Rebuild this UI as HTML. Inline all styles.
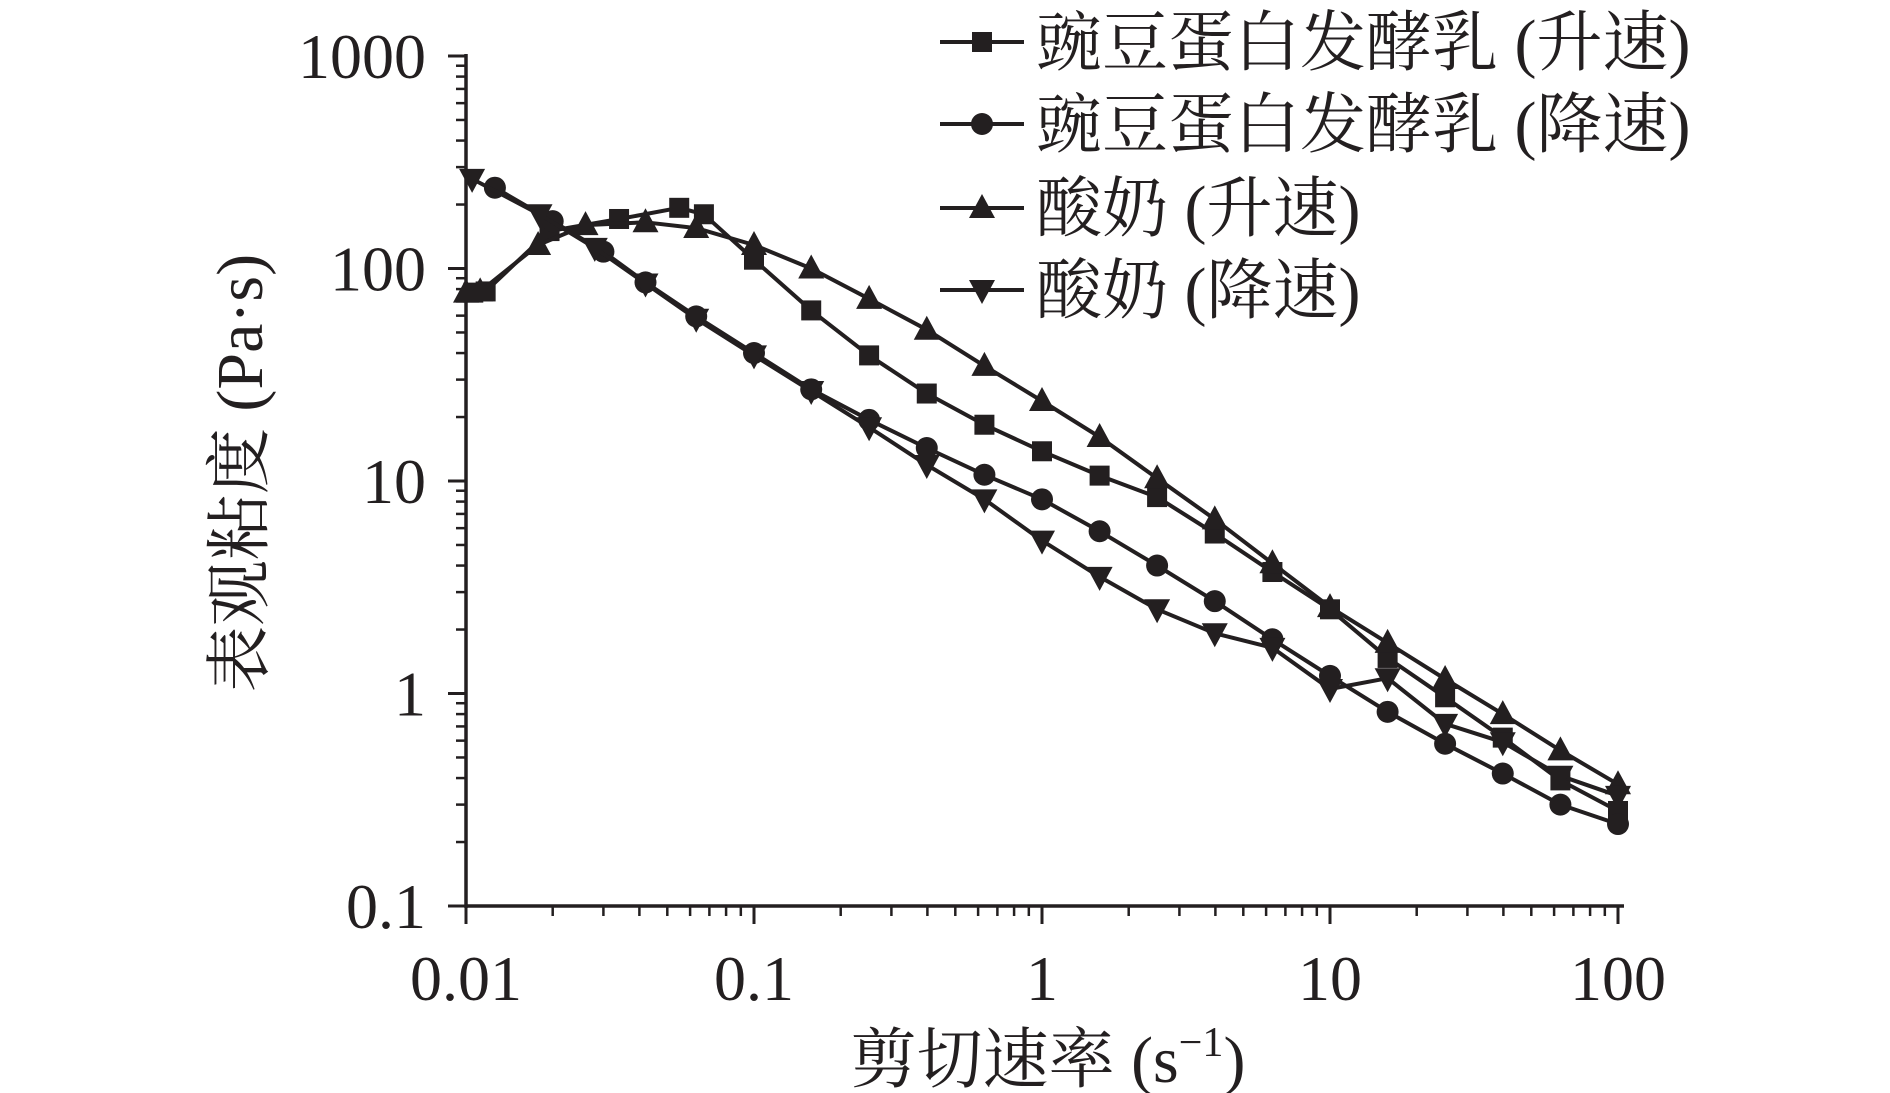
<!DOCTYPE html>
<html><head><meta charset="utf-8"><style>
html,body{margin:0;padding:0;background:#fff;}
svg{display:block;}
text{font-family:"Liberation Serif","Noto Serif CJK SC",serif;fill:#231f20;}
</style></head><body>
<svg id="chart" width="1890" height="1093" viewBox="0 0 1890 1093" xmlns="http://www.w3.org/2000/svg">
<g id="axes"></g>
<g id="series"></g>
<g id="legend"></g>
<text x="1048" y="1082" font-size="66" text-anchor="middle">剪切速率 (s<tspan font-size="42" dy="-26">−1</tspan><tspan dy="26">)</tspan></text>
<text transform="translate(262,473) rotate(-90)" font-size="66" text-anchor="middle">表观粘度 (Pa·s)</text>
</svg>
<script>
const xTicks = [0.01, 0.1, 1, 10, 100];
const xTickLabels = ["0.01", "0.1", "1", "10", "100"];
const yTicks = [0.1, 1, 10, 100, 1000];
const yTickLabels = ["0.1", "1", "10", "100", "1000"];
const seriesNames = ["豌豆蛋白发酵乳 (升速)", "豌豆蛋白发酵乳 (降速)", "酸奶 (升速)", "酸奶 (降速)"];
const seriesMarkers = ["square", "circle", "up", "down"];
const peaUpX = [0.0106,0.0117,0.0195,0.034,0.055,0.067,0.1,0.158,0.251,0.398,0.631,1,1.585,2.51,3.98,6.31,10,15.85,25.1,39.8,63.1,100];
const peaUpY = [77,78,150,171,193,180,110,63.5,39,25.8,18.4,13.8,10.6,8.4,5.66,3.73,2.49,1.47,0.96,0.62,0.39,0.28];
const peaDownX = [0.0126,0.02,0.03,0.042,0.063,0.1,0.158,0.251,0.398,0.631,1,1.585,2.51,3.98,6.31,10,15.85,25.1,39.8,63.1,100];
const peaDownY = [240,167,120,86,59.5,40,27,19.4,14.3,10.7,8.2,5.8,4.0,2.72,1.8,1.21,0.82,0.58,0.42,0.30,0.243];
const yogUpX = [0.01,0.0112,0.0178,0.026,0.042,0.063,0.1,0.158,0.251,0.398,0.631,1,1.585,2.51,3.98,6.31,10,15.85,25.1,39.8,63.1,100];
const yogUpY = [77,78,129,160,165,155,129,100,72,51.5,34.8,23.8,16.1,10.3,6.6,4.1,2.55,1.73,1.17,0.80,0.54,0.374];
const yogDownX = [0.0105,0.018,0.028,0.042,0.063,0.1,0.158,0.251,0.398,0.631,1,1.585,2.51,3.98,6.31,10,15.85,25.1,39.8,63.1,100];
const yogDownY = [264,180,125,85,58,39,26.5,17.9,11.9,8.2,5.24,3.54,2.49,1.92,1.64,1.05,1.18,0.72,0.59,0.41,0.33];

const NS = "http://www.w3.org/2000/svg";
const X0 = 466, X1 = 1618, Y0 = 906, Y1 = 56;
function xs(v){ return X0 + (Math.log10(v) + 2) / 4 * (X1 - X0); }
function ys(v){ return Y0 - (Math.log10(v) + 1) / 4 * (Y0 - Y1); }
function mk(tag, attrs, parent){ const e = document.createElementNS(NS, tag); for (const k in attrs) e.setAttribute(k, attrs[k]); parent.appendChild(e); return e; }
const C = "#231f20";
const axes = document.getElementById("axes");
let el = mk("line", {x1: X0, y1: Y0, x2: X1 + 6, y2: Y0, stroke: C, "stroke-width": 3.5}, axes);


el = mk("line", {x1: X0, y1: Y0 + 2, x2: X0, y2: Y1 - 2, stroke: C, "stroke-width": 3.5}, axes);


for (let d = 0; d < 4; d++) {
  for (let m = 2; m <= 9; m++) {
    const xv = xTicks[d] * m, yv = yTicks[d] * m;
    el = mk("line", {x1: xs(xv), y1: Y0, x2: xs(xv), y2: Y0 + 10, stroke: C, "stroke-width": 2.5}, axes);
    
    
    el = mk("line", {x1: X0, y1: ys(yv), x2: X0 - 10, y2: ys(yv), stroke: C, "stroke-width": 2.5}, axes);
    
    
  }
}
xTicks.forEach((v, i) => {
  el = mk("line", {x1: xs(v), y1: Y0, x2: xs(v), y2: Y0 + 18, stroke: C, "stroke-width": 3}, axes);
  
  
  const t = mk("text", {x: xs(v), y: 1000, "font-size": 64, "text-anchor": "middle"}, axes);
  t.textContent = xTickLabels[i];
  
  
});
yTicks.forEach((v, i) => {
  el = mk("line", {x1: X0, y1: ys(v), x2: X0 - 18, y2: ys(v), stroke: C, "stroke-width": 3}, axes);
  
  
  const t = mk("text", {x: 426, y: ys(v) + 22, "font-size": 64, "text-anchor": "end"}, axes);
  t.textContent = yTickLabels[i];
  
  
});
function marker(type, x, y, parent){
  let e;
  if (type === "square") e = mk("rect", {x: x - 10, y: y - 10, width: 20, height: 20, fill: C}, parent);
  else if (type === "circle") e = mk("circle", {cx: x, cy: y, r: 11, fill: C}, parent);
  else if (type === "up") e = mk("polygon", {points: `${x},${y-14} ${x-13},${y+10} ${x+13},${y+10}`, fill: C}, parent);
  else e = mk("polygon", {points: `${x},${y+14} ${x-13},${y-10} ${x+13},${y-10}`, fill: C}, parent);
  return e;
}
const seriesG = document.getElementById("series");
const allX = [peaUpX, peaDownX, yogUpX, yogDownX];
const allY = [peaUpY, peaDownY, yogUpY, yogDownY];
const slugs = ["pea-ramp-up", "pea-ramp-down", "yogurt-ramp-up", "yogurt-ramp-down"];
allX.forEach((xa, s) => {
  const g = mk("g", {}, seriesG);
  
  
  const pts = xa.map((xv, i) => xs(xv).toFixed(1) + "," + ys(allY[s][i]).toFixed(1)).join(" ");
  const pl = mk("polyline", {points: pts, fill: "none", stroke: C, "stroke-width": 4, "stroke-linejoin": "round"}, g);
  
  
  xa.forEach((xv, i) => {
    const m = marker(seriesMarkers[s], xs(xv), ys(allY[s][i]), g);
    
    
  });
});
const lg = document.getElementById("legend");
const legY = [42, 124, 208, 290];
seriesNames.forEach((n, i) => {
  const g = mk("g", {}, lg);
  
  
  mk("line", {x1: 940, y1: legY[i], x2: 1024, y2: legY[i], stroke: C, "stroke-width": 4}, g);
  marker(seriesMarkers[i], 982, legY[i], g);
  const t = mk("text", {x: 1036, y: legY[i] + 23, "font-size": 66}, g);
  t.textContent = n;
  
  
});
</script>
</body></html>
